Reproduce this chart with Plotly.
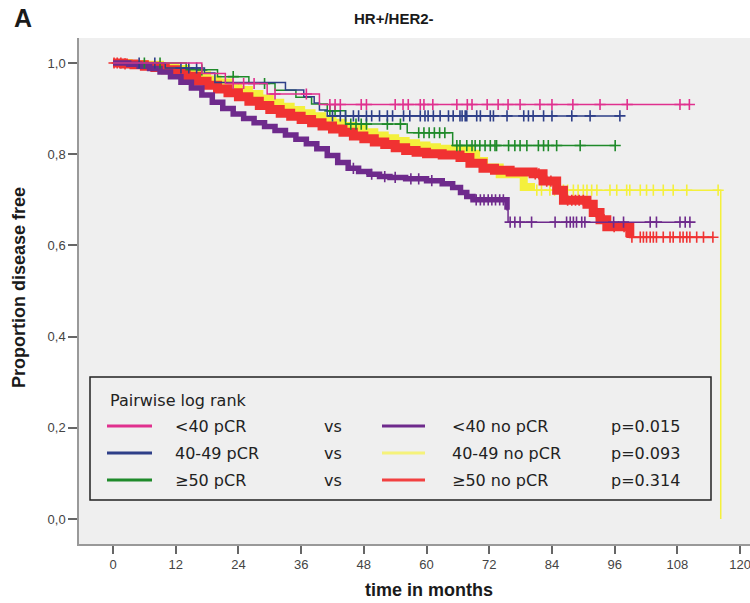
import numpy as np
import plotly.graph_objects as go

# ---------------- data ----------------
x_tick_vals = [0, 12, 24, 36, 48, 60, 72, 84, 96, 108, 120]
y_tick_vals = [0.0, 0.2, 0.4, 0.6, 0.8, 1.0]
y_tick_text = ["0,0", "0,2", "0,4", "0,6", "0,8", "1,0"]

# <40 pCR
pink_t = [17, 21.5, 29.5, 39.5]
pink_s = [0.977, 0.955, 0.932, 0.909]
pink_c = [23, 25, 27, 31, 37, 41.5, 42.5, 43.5, 47.5, 48.5, 54, 55.5, 56.5, 58.8, 59.5,
          61.2, 65.8, 67.8, 68.7, 71.6, 73.7, 75.6, 77.9, 81.7, 84.0, 88.0, 93.2, 98.4,
          108.5, 110.3]

# 40-49 pCR
navy_t = [10, 17.5, 19.5, 33, 36.5, 38.5, 39.5, 41]
navy_s = [0.989, 0.978, 0.957, 0.941, 0.926, 0.912, 0.897, 0.884]
navy_c = [5, 8, 13, 14.5, 16, 42, 43.5, 44.5, 46, 47, 48.5, 49.5, 51, 52.5, 53.5, 55.6,
          56.8, 58.8, 59.7, 60.3, 61.3, 62.6, 64.2, 65.1, 66.4, 66.8, 67.4, 67.7, 69.6,
          70.3, 72.2, 72.8, 75.4, 78.6, 79.5, 80.4, 82.4, 84.0, 87.8, 91.3, 97.0]

# >=50 pCR
green_t = [14, 20, 26, 31, 35, 38, 41, 44.5, 56.3, 65]
green_s = [0.985, 0.970, 0.955, 0.940, 0.925, 0.910, 0.895, 0.866, 0.847, 0.819]
green_c = [6, 9, 17, 23, 29, 41.5, 42.5, 45.5, 46.5, 47.5, 48.5, 52.5, 55, 58.5, 59.5,
           60.5, 61.5, 62.5, 63.5, 65.8, 66.4, 67.7, 68.7, 69.3, 70.2, 71.2, 72.2, 73.1,
           73.4, 75.7, 76.9, 77.9, 79.2, 81.4, 82.4, 83.3, 84.9, 89.4, 96.1]

# <40 no pCR
purple_t = [3, 5, 7, 9, 11, 13, 15, 17, 19, 21, 23, 25, 27, 29, 31, 33, 35, 37, 39, 41,
            43, 45, 47, 49, 51, 53, 56, 60, 63, 65, 66.5, 67.7, 68.9, 75.4, 75.6]
purple_s = [0.997, 0.993, 0.988, 0.980, 0.970, 0.958, 0.945, 0.930, 0.914, 0.900, 0.888,
            0.878, 0.869, 0.861, 0.852, 0.842, 0.833, 0.823, 0.812, 0.797, 0.782, 0.769,
            0.762, 0.756, 0.751, 0.749, 0.746, 0.742, 0.735, 0.727, 0.716, 0.707, 0.700,
            0.678, 0.651]
purple_c = [46, 49.5, 52, 54, 57, 58.5, 61, 69.5, 70.3, 71, 71.8, 72.5, 73.2, 74, 74.7,
            76.0, 76.9, 77.9, 80.1, 84.6, 86.8, 87.5, 88.1, 88.7, 89.7, 90.3, 95.8, 97.7,
            102.8, 104.0, 108.5, 109.5, 110.4]

# 40-49 no pCR
yellow_t = [3, 6, 9, 12, 14, 16, 18, 20, 22, 24, 26, 28, 30, 32, 34, 36, 38, 40, 42, 44,
            46, 48, 50, 52, 54, 56, 58, 60, 62, 65, 68.3, 69.5, 71, 74, 78.6, 80, 116.3]
yellow_s = [0.998, 0.996, 0.992, 0.987, 0.981, 0.973, 0.964, 0.957, 0.949, 0.941, 0.932,
            0.922, 0.913, 0.904, 0.897, 0.890, 0.883, 0.876, 0.869, 0.862, 0.855, 0.848,
            0.841, 0.835, 0.829, 0.824, 0.819, 0.815, 0.812, 0.809, 0.801, 0.785, 0.771,
            0.756, 0.728, 0.721, 0.0]
yellow_c = [81.1, 82.0, 83.6, 84.5, 86.2, 87.0, 88.1, 89.0, 90.0, 90.7, 91.6, 92.6, 95.1,
            96.4, 98.3, 98.9, 100.9, 102.1, 103.4, 105.3, 107.2, 109.8, 115.8]

# >=50 no pCR
red_t = [2, 4, 6, 8, 10, 12, 14, 16, 18, 20, 22, 24, 26, 28, 30, 32, 34, 36, 38, 40, 42,
         44, 46, 48, 50, 52, 54, 56, 58, 60, 63, 66.4, 68.3, 70.8, 73, 76, 80.4, 82.3,
         84.9, 86.2, 90.7, 91.9, 93.2, 94.5, 98.9]
red_s = [0.998, 0.996, 0.993, 0.990, 0.985, 0.979, 0.971, 0.960, 0.951, 0.943, 0.935,
         0.926, 0.916, 0.907, 0.898, 0.890, 0.883, 0.876, 0.869, 0.862, 0.855, 0.848,
         0.840, 0.834, 0.827, 0.821, 0.814, 0.808, 0.804, 0.801, 0.798, 0.793, 0.780,
         0.769, 0.765, 0.761, 0.757, 0.741, 0.721, 0.699, 0.690, 0.672, 0.656, 0.641,
         0.618]
red_c = [0.2, 0.8, 1.5, 2.3, 80.8, 81.5, 83, 83.8, 85.5, 87, 87.8, 88.5, 89.2, 90, 92.5,
         94, 95.9, 97.8, 99.3, 100.9, 101.5, 102.1, 102.8, 103.4, 104.0, 105.3, 106.6,
         107.2, 108.5, 109.1, 109.8, 110.4, 111.7, 113.0, 114.8]

legend_title = "Pairwise log rank"
legend_left = ["<40 pCR", "40-49 pCR", "≥50 pCR"]
legend_right = ["<40 no pCR", "40-49 no pCR", "≥50 no pCR"]
legend_p = ["p=0.015", "p=0.093", "p=0.314"]

# ---------------- style ----------------
C_PINK, C_NAVY, C_GREEN = "#e0308e", "#2e3f88", "#1f8a2a"
C_PURPLE, C_YELLOW, C_RED = "#6e2a8c", "#f4f03c", "#f03232"

series = [
    # (t, s, censor, color, thin width, thick width, thick until)
    (yellow_t, yellow_s, yellow_c, C_YELLOW, 1.5, 8, 80.0),
    (red_t, red_s, red_c, C_RED, 2.0, 9, 98.9),
    (purple_t, purple_s, purple_c, C_PURPLE, 1.5, 5.5, 75.4),
    (green_t, green_s, green_c, C_GREEN, 1.5, None, None),
    (navy_t, navy_s, navy_c, C_NAVY, 1.5, None, None),
    (pink_t, pink_s, pink_c, C_PINK, 1.5, None, None),
]

W, H = 750, 603
ML, MR, MT, MB = 79, 0, 38, 59
PW, PH = W - ML - MR, H - MT - MB


def pxx(px):
    return (px - ML) / PW


def pxy(py):
    return (H - MB - py) / PH


def surv_at(t, s, c):
    t_arr = np.asarray(t, float)
    idx = np.searchsorted(t_arr, np.asarray(c, float), side="right") - 1
    s_arr = np.asarray(s, float)
    return np.where(idx < 0, 1.0, s_arr[np.clip(idx, 0, None)])


fig = go.Figure()
for t, s, c, col, wthin, wthick, tu in series:
    end = max(max(t), max(c))
    last = float(surv_at(t, s, [end])[0])
    x = [0] + list(t) + [end]
    y = [1.0] + list(s) + [last]
    fig.add_trace(go.Scatter(x=x, y=y, mode="lines", line=dict(color=col, width=wthin, shape="hv"),
                             hoverinfo="skip", showlegend=False))
    if wthick:
        tt = [ti for ti in t if ti <= tu]
        ss = list(s[:len(tt)])
        xk = [0] + tt + [tu]
        yk = [1.0] + ss + [float(surv_at(t, s, [tu])[0])]
        fig.add_trace(go.Scatter(x=xk, y=yk, mode="lines",
                                 line=dict(color=col, width=wthick, shape="hv"),
                                 hoverinfo="skip", showlegend=False))
    fig.add_trace(go.Scatter(x=c, y=surv_at(t, s, c), mode="markers",
                             marker=dict(symbol="cross-thin", size=8, color=col,
                                         line=dict(color=col, width=1.6)),
                             hoverinfo="skip", showlegend=False))

tick_font = dict(family="Liberation Sans, Arial, sans-serif", size=13, color="#444")
fig.update_xaxes(range=[-6.51, 121.9], tickvals=x_tick_vals, ticks="outside", ticklen=8,
                 tickwidth=1.5, tickcolor="#666", showline=True, linecolor="#999",
                 linewidth=1.5, showgrid=False, zeroline=False, tickfont=tick_font,
                 ticklabeloverflow="allow")
fig.update_yaxes(range=[-0.0548, 1.0548], tickvals=y_tick_vals, ticktext=y_tick_text,
                 ticks="outside", ticklen=9, tickwidth=1.5, tickcolor="#666", showline=True,
                 linecolor="#999", linewidth=1.5, showgrid=False, zeroline=False,
                 tickfont=tick_font)

ann = []
bold = dict(family="Liberation Sans, Arial, sans-serif", color="#1a1a1a")
ann.append(dict(text="<b>A</b>", x=pxx(23), y=pxy(18), font=dict(size=25, **bold)))
ann.append(dict(text="<b>HR+/HER2-</b>", x=pxx(394), y=pxy(19), font=dict(size=15, **bold)))
ann.append(dict(text="<b>Proportion disease free</b>", x=pxx(19), y=pxy(288), textangle=-90,
                font=dict(size=18, **bold)))
ann.append(dict(text="<b>time in months</b>", x=pxx(429), y=pxy(590), font=dict(size=18, **bold)))

lf = dict(family="DejaVu Sans, sans-serif", size=16, color="#222")
ann.append(dict(text=legend_title, x=pxx(108), y=pxy(400), xanchor="left", font=lf))
rows_y = [426, 453, 480]
left_cols = [C_PINK, C_NAVY, C_GREEN]
right_cols = [C_PURPLE, "#f5f27a", "#f24040"]
shapes = [dict(type="rect", xref="paper", yref="paper", x0=pxx(90), x1=pxx(711),
               y0=pxy(500), y1=pxy(377), line=dict(color="#222", width=1.5))]
for i, ry in enumerate(rows_y):
    shapes.append(dict(type="line", xref="paper", yref="paper", x0=pxx(107), x1=pxx(152),
                       y0=pxy(ry), y1=pxy(ry), line=dict(color=left_cols[i], width=3)))
    shapes.append(dict(type="line", xref="paper", yref="paper", x0=pxx(382), x1=pxx(425),
                       y0=pxy(ry), y1=pxy(ry), line=dict(color=right_cols[i], width=3)))
    for txt, xx in [(legend_left[i], 173), ("vs", 322), (legend_right[i], 450), (legend_p[i], 609)]:
        ann.append(dict(text=txt.replace("<", "&lt;"), x=pxx(xx), y=pxy(ry), xanchor="left",
                        font=lf))

for a in ann:
    a.setdefault("xanchor", "center")
    a.update(xref="paper", yref="paper", yanchor="middle", showarrow=False)

fig.update_layout(width=W, height=H, margin=dict(l=ML, r=MR, t=MT, b=MB),
                  plot_bgcolor="#efefef", paper_bgcolor="white", annotations=ann,
                  shapes=shapes, showlegend=False)
fig.write_html("out.html")
